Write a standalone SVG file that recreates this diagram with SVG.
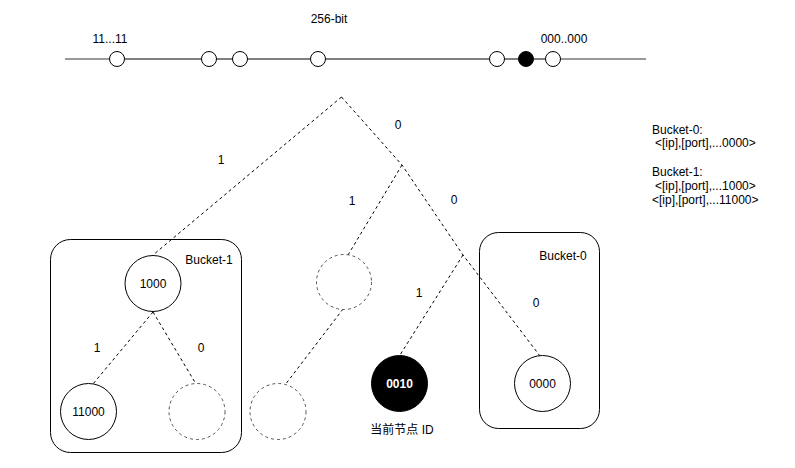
<svg xmlns="http://www.w3.org/2000/svg" width="795" height="468" viewBox="0 0 795 468">
<style>
text{font-family:"Liberation Sans",Arial,sans-serif;font-size:12px;fill:#000}
.c{text-anchor:middle}
.node{fill:#fff;stroke:#000;stroke-width:1}
.ghost{fill:#fff;stroke:#555;stroke-width:1;stroke-dasharray:3 3}
.edge{fill:none;stroke:#000;stroke-width:1;stroke-dasharray:3 3}
.bucket{fill:none;stroke:#000;stroke-width:1}
.dot{fill:#fff;stroke:#000;stroke-width:1}
</style>
<rect width="795" height="468" fill="#fff"/>
<g id="keyspace">
<line x1="65" y1="59" x2="646" y2="59" stroke="#000" stroke-width="0.8"/>
<line x1="117" y1="59" x2="554" y2="59" stroke="#777" stroke-width="1.5"/>
<circle class="dot" cx="117" cy="59" r="7.5"/>
<circle class="dot" cx="209" cy="59" r="7.5"/>
<circle class="dot" cx="240" cy="59" r="7.5"/>
<circle class="dot" cx="318" cy="59" r="7.5"/>
<circle class="dot" cx="497" cy="59" r="7.5"/>
<circle cx="526" cy="59" r="7.5" fill="#000" stroke="#000"/>
<circle class="dot" cx="553" cy="59" r="7.5"/>
<text class="c" x="329" y="23">256-bit</text>
<text class="c" x="110" y="43">11...11</text>
<text class="c" x="564" y="43">000..000</text>
</g>
<g id="legend">
<text x="652" y="134">Bucket-0:</text>
<text x="652" y="147"> <tspan x="655">&lt;[ip],[port],...0000&gt;</tspan></text>
<text x="652" y="176">Bucket-1:</text>
<text x="655" y="190">&lt;[ip],[port],...1000&gt;</text>
<text x="652" y="204">&lt;[ip],[port],...11000&gt;</text>
</g>
<g id="bucket-1">
<rect class="bucket" x="50.5" y="239.5" width="191" height="213" rx="20" ry="20"/>
<text class="c" x="209" y="264">Bucket-1</text>
</g>
<g id="bucket-0">
<rect class="bucket" x="479.5" y="232.5" width="120" height="196" rx="19" ry="19"/>
<text class="c" x="563" y="260">Bucket-0</text>
</g>
<g id="connectors">
<polyline class="edge" points="341.5,97 153,255"/>
<polyline class="edge" points="341.5,97 402,165 463,255 540,356"/>
<line class="edge" x1="402" y1="165" x2="348" y2="255"/>
<line class="edge" x1="463" y1="255" x2="400" y2="355"/>
<line class="edge" x1="343" y1="309" x2="285" y2="385"/>
<line class="edge" x1="153" y1="312" x2="93" y2="384"/>
<line class="edge" x1="153" y1="312" x2="196" y2="384"/>
<text class="c" x="221" y="164">1</text>
<text class="c" x="398" y="129">0</text>
<text class="c" x="352" y="205">1</text>
<text class="c" x="454" y="204">0</text>
<text class="c" x="419" y="297">1</text>
<text class="c" x="536" y="307">0</text>
<text class="c" x="97" y="352">1</text>
<text class="c" x="201" y="352">0</text>
</g>
<g id="n1000">
<circle class="node" cx="153" cy="283.5" r="28"/>
<text class="c" x="153" y="288">1000</text>
</g>
<g id="n11000">
<circle class="node" cx="88.5" cy="411.5" r="28"/>
<text class="c" x="88.5" y="416">11000</text>
</g>
<g id="n10-empty">
<circle class="ghost" cx="197" cy="411.5" r="28"/>
</g>
<g id="n01-empty">
<circle class="ghost" cx="344" cy="282" r="27.5"/>
</g>
<g id="n011-empty">
<circle class="ghost" cx="278" cy="411.5" r="28"/>
</g>
<g id="n0010">
<circle cx="399.5" cy="383.5" r="28" fill="#000" stroke="#000"/>
<text class="c" x="399.5" y="388" style="fill:#fff;font-weight:bold">0010</text>
<text class="c" x="402" y="434" style="font-family:'Liberation Sans','Noto Sans CJK SC',sans-serif">当前节点 ID</text>
</g>
<g id="n0000">
<circle class="node" cx="542.5" cy="383.5" r="28"/>
<text class="c" x="542.5" y="388">0000</text>
</g>
</svg>
